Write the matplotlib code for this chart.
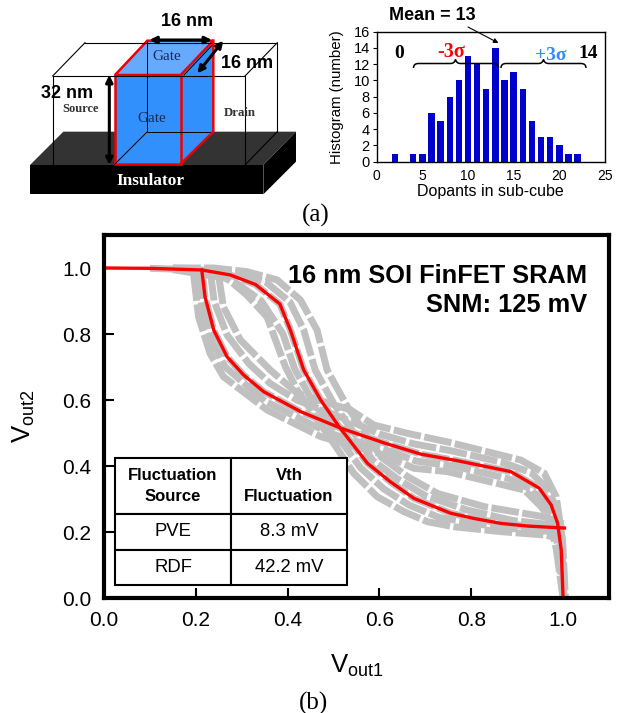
import matplotlib
matplotlib.use('Agg')
import matplotlib.pyplot as plt
from matplotlib.patches import Polygon, PathPatch
from matplotlib.path import Path

plt.rcParams['font.family'] = ['Liberation Sans', 'DejaVu Sans']
plt.rcParams['mathtext.fontset'] = 'custom'
plt.rcParams['mathtext.rm'] = 'Liberation Sans'
plt.rcParams['mathtext.default'] = 'rm'

SERIF = 'Liberation Serif'

# histogram, top right
dopants = [2, 4, 5, 6, 7, 8, 9, 10, 11, 12, 13, 14, 15, 16, 17, 18, 19, 20, 21, 22]
counts = [1, 1, 1, 6, 5, 8, 10, 13, 12, 9, 14, 10, 11, 9, 5, 3, 3, 2, 1, 1]

# red nominal butterfly curves
red_a_x = [0, 0.1, 0.213, 0.275, 0.33, 0.383, 0.406, 0.435, 0.472, 0.512, 0.574, 0.624, 0.675, 0.755, 0.806, 0.865, 0.923, 1.003]
red_a_y = [1.0, 0.999, 0.994, 0.979, 0.95, 0.891, 0.812, 0.691, 0.6, 0.519, 0.408, 0.352, 0.302, 0.257, 0.241, 0.226, 0.218, 0.212]
red_b_x = [0.213, 0.22, 0.239, 0.268, 0.304, 0.348, 0.428, 0.515, 0.61, 0.69, 0.77, 0.886, 0.948, 0.974, 0.988, 0.996, 1.0]
red_b_y = [0.994, 0.913, 0.812, 0.731, 0.676, 0.625, 0.565, 0.515, 0.47, 0.436, 0.416, 0.383, 0.333, 0.282, 0.227, 0.145, 0.0]

# gray spread, read across the two bands
a1_x = [0.15, 0.239, 0.311, 0.377, 0.428, 0.464, 0.486, 0.53, 0.603, 0.661, 0.726, 0.828, 0.959, 1.0]
a1_y = [1.0, 1.0, 0.989, 0.964, 0.903, 0.812, 0.691, 0.58, 0.428, 0.368, 0.317, 0.277, 0.246, 0.225]
a2_x = [0.15, 0.226, 0.293, 0.353, 0.405, 0.435, 0.46, 0.5, 0.585, 0.64, 0.7, 0.79, 0.89, 1.0]
a2_y = [1.0, 0.997, 0.984, 0.957, 0.897, 0.812, 0.691, 0.59, 0.418, 0.36, 0.31, 0.267, 0.235, 0.218]
a4_x = [0.15, 0.24, 0.293, 0.343, 0.39, 0.415, 0.447, 0.506, 0.56, 0.61, 0.664, 0.73, 0.8, 0.865, 0.96, 1.0]
a4_y = [0.997, 0.985, 0.95, 0.9, 0.8, 0.695, 0.615, 0.494, 0.393, 0.33, 0.282, 0.244, 0.228, 0.213, 0.203, 0.196]
a5_x = [0.15, 0.268, 0.311, 0.355, 0.395, 0.421, 0.5, 0.544, 0.595, 0.653, 0.705, 0.762, 0.865, 0.959, 0.995]
a5_y = [0.995, 0.969, 0.918, 0.852, 0.701, 0.63, 0.469, 0.378, 0.307, 0.262, 0.231, 0.216, 0.201, 0.191, 0.18]
b1_x = [0.195, 0.206, 0.231, 0.26, 0.355, 0.472, 0.61, 0.675, 0.748, 0.872, 0.916, 0.952, 0.966, 0.985, 1.0]
b1_y = [0.984, 0.852, 0.741, 0.671, 0.57, 0.489, 0.433, 0.393, 0.383, 0.342, 0.327, 0.277, 0.252, 0.15, 0.0]
b2_x = [0.204, 0.213, 0.235, 0.264, 0.35, 0.45, 0.51, 0.61, 0.68, 0.76, 0.88, 0.93, 0.96, 0.977, 0.99, 1.0]
b2_y = [0.99, 0.88, 0.776, 0.7, 0.597, 0.527, 0.49, 0.451, 0.415, 0.4, 0.362, 0.33, 0.28, 0.23, 0.15, 0.0]
b4_x = [0.232, 0.24, 0.268, 0.315, 0.362, 0.42, 0.53, 0.6, 0.675, 0.76, 0.87, 0.93, 0.967, 0.986, 0.998, 1.002]
b4_y = [0.985, 0.898, 0.797, 0.711, 0.65, 0.6, 0.54, 0.497, 0.467, 0.445, 0.41, 0.38, 0.33, 0.27, 0.16, 0.0]
b5_x = [0.25, 0.26, 0.297, 0.362, 0.421, 0.537, 0.588, 0.661, 0.748, 0.85, 0.908, 0.959, 0.985, 0.999, 1.005]
b5_y = [0.974, 0.883, 0.782, 0.691, 0.62, 0.57, 0.524, 0.499, 0.473, 0.438, 0.418, 0.378, 0.307, 0.176, 0.0]

# table in the main plot
table_rows = [['Fluctuation\nSource', 'Vth\nFluctuation'],
              ['PVE', '8.3 mV'],
              ['RDF', '42.2 mV']]

fig = plt.figure(figsize=(6.22, 7.13), dpi=100, facecolor='white')


def px_axes(left, top, right, bottom, **kw):
    return fig.add_axes([left / 622, 1 - bottom / 713, (right - left) / 622, (bottom - top) / 713], **kw)


# schematic, drawn in pixel coordinates on a full page axes
sk = fig.add_axes([0, 0, 1, 1], zorder=1)
sk.set_xlim(0, 622)
sk.set_ylim(713, 0)
sk.axis('off')


def poly(pts, **kw):
    sk.add_patch(Polygon([(x / 3, y / 3) for x, y in pts], closed=True, **kw))


def seg(pts, color='black', lw=0.8, **kw):
    sk.plot([p[0] / 3 for p in pts], [p[1] / 3 for p in pts], color=color, lw=lw, **kw)


def twoway(p0, p1, lw=2.2):
    sk.annotate('', xy=(p1[0] / 3, p1[1] / 3), xytext=(p0[0] / 3, p0[1] / 3),
                arrowprops=dict(arrowstyle='<|-|>', color='black', lw=lw, shrinkA=0, shrinkB=0, mutation_scale=10))


poly([(90, 495), (190, 395), (888, 395), (790, 495)], fc='#333333', ec='none')
poly([(790, 583), (888, 485), (888, 395), (790, 495)], fc='black', ec='none')
poly([(90, 495), (790, 495), (790, 583), (90, 583)], fc='black', ec='none')

seg([(158, 495), (158, 228), (735, 228), (735, 495)])
seg([(255, 128), (832, 128), (832, 395)])
seg([(158, 228), (255, 128)])
seg([(735, 228), (832, 128)])
seg([(735, 495), (832, 395)])

poly([(542, 225), (640, 122), (640, 395), (542, 492)], fc='#3290FC', ec='none')
poly([(345, 225), (442, 122), (640, 122), (542, 225)], fc='#66AAFF', ec='none')
poly([(345, 225), (542, 225), (542, 492), (345, 492)], fc='#3290FC', ec='none')
seg([(442, 122), (442, 395), (640, 395)], lw=0.7)
seg([(442, 395), (345, 492)], lw=0.7)
seg([(552, 225), (640, 132)], lw=0.7)
poly([(345, 225), (442, 122), (640, 122), (542, 225)], fc='none', ec='#EE0000', lw=1.8)
poly([(345, 225), (542, 225), (542, 492), (345, 492)], fc='none', ec='#EE0000', lw=1.8)
seg([(640, 122), (640, 395), (542, 492)], color='#EE0000', lw=1.8)

twoway((448, 120), (636, 120))
twoway((592, 220), (670, 122))
twoway((328, 225), (328, 495))

sk.text(187, 21, '16 nm', fontsize=13, fontweight='bold', ha='center', va='center')
sk.text(247, 64, '16 nm', fontsize=13, fontweight='bold', ha='center', va='center')
sk.text(67, 94, '32 nm', fontsize=13, fontweight='bold', ha='center', va='center')
sk.text(80.5, 109, 'Source', family=SERIF, fontsize=9, fontweight='bold', color='#333333', ha='center', va='center')
sk.text(240, 113, 'Drain', family=SERIF, fontsize=9.3, fontweight='bold', color='#333333', ha='center', va='center')
sk.text(167, 57, 'Gate', family=SERIF, fontsize=11, color='#1a2a55', ha='center', va='center')
sk.text(152, 118, 'Gate', family=SERIF, fontsize=11, color='#1a2a55', ha='center', va='center')
sk.text(150, 181, 'Insulator', family=SERIF, fontsize=12.4, fontweight='bold', color='white', ha='center', va='center')
sk.text(316, 215, '(a)', family=SERIF, fontsize=18, ha='center', va='center')
sk.text(313, 703, '(b)', family=SERIF, fontsize=18, ha='center', va='center')

# histogram
ah = px_axes(376.7, 31.7, 605, 161.7, zorder=2)
ah.bar(dopants, counts, width=0.7, color='#0000CC')
ah.set_xlim(0, 25)
ah.set_ylim(0, 16)
ah.set_xticks(range(0, 26, 5))
ah.set_yticks(range(0, 17, 2))
ah.tick_params(axis='x', length=0, labelsize=10, pad=5)
ah.tick_params(axis='y', length=3, width=0.8, labelsize=10.5, pad=2)
ah.set_xlabel('Dopants in sub-cube', fontsize=11.5, labelpad=1)
ah.set_ylabel('Histogram (number)', fontsize=10.8, labelpad=7)
for s in ah.spines.values():
    s.set_linewidth(1.0)

# main butterfly plot
ax = px_axes(104, 235, 609, 598, zorder=2)
band_style = dict(color='#C0C0C0', lw=5, dashes=(4, 0.5), dash_capstyle='butt')
for xs, ys in [(a1_x, a1_y), (a2_x, a2_y), (red_a_x[1:], red_a_y[1:]), (a4_x, a4_y), (a5_x, a5_y),
               (b1_x, b1_y), (b2_x, b2_y), (red_b_x, red_b_y), (b4_x, b4_y), (b5_x, b5_y)]:
    ax.plot(xs, ys, **band_style)
ax.plot(red_a_x, red_a_y, color='#FF0000', lw=2.4, solid_joinstyle='miter')
ax.plot(red_b_x, red_b_y, color='#FF0000', lw=2.4, solid_joinstyle='miter')
ax.set_xlim(0, 1.1)
ax.set_ylim(0, 1.1)
ax.set_xticks([0, 0.2, 0.4, 0.6, 0.8, 1.0])
ax.set_yticks([0, 0.2, 0.4, 0.6, 0.8, 1.0])
ax.set_xticklabels(['0.0', '0.2', '0.4', '0.6', '0.8', '1.0'])
ax.set_yticklabels(['0.0', '0.2', '0.4', '0.6', '0.8', '1.0'])
ax.tick_params(direction='in', length=7.5, width=1.5, labelsize=15, pad=9)
for s in ax.spines.values():
    s.set_linewidth(3)
ax.set_xlabel('V$_{out1}$', fontsize=18.5, labelpad=17)
ax.set_ylabel('V$_{out2}$', fontsize=18.5, labelpad=18)
ax.text(0.957, 0.92, '16 nm SOI FinFET SRAM\nSNM: 125 mV', transform=ax.transAxes, fontsize=18.3,
        fontweight='bold', ha='right', va='top', linespacing=1.26)

tb = ax.table(cellText=table_rows, cellLoc='center',
              bbox=[(115 - 104) / 505, (598 - 585) / 363, (346.7 - 115) / 505, (585 - 458) / 363])
row_heights = [56, 36, 35]
col_widths = [116, 115.7]
tb.auto_set_font_size(False)
for (r, c), cell in tb.get_celld().items():
    cell.set_height(row_heights[r])
    cell.set_width(col_widths[c])
    cell.set_linewidth(1.5)
    cell.set_facecolor('white')
    if r == 0:
        cell.set_text_props(fontsize=12, fontweight='bold', linespacing=1.55)
    else:
        cell.set_text_props(fontsize=13.3)
tb.set_zorder(5)

# annotations over the histogram
top = fig.add_axes([0, 0, 1, 1], zorder=3)
top.set_xlim(0, 622)
top.set_ylim(713, 0)
top.axis('off')
top.patch.set_alpha(0)


def brace(x0, x1, xm, y, rise=6.5):
    h = 3.5
    verts = [(x0, y + 2), (x0, y - h + 1), (x0 + 5, y - h + 1), (xm - 5, y - h + 1), (xm - 1, y - h + 1), (xm, y - rise),
             (xm, y - rise), (xm + 1, y - h + 1), (xm + 5, y - h + 1), (x1 - 5, y - h + 1), (x1, y - h + 1), (x1, y + 2)]
    codes = [Path.MOVETO, Path.CURVE3, Path.CURVE3, Path.LINETO, Path.CURVE3, Path.CURVE3,
             Path.LINETO, Path.CURVE3, Path.CURVE3, Path.LINETO, Path.CURVE3, Path.CURVE3]
    top.add_patch(PathPatch(Path(verts, codes), fc='none', ec='black', lw=1.1))


brace(413.5, 498.5, 455.5, 66)
brace(501, 586, 543.5, 66)
top.text(432.7, 15.5, 'Mean = 13', fontsize=13, fontweight='bold', ha='center', va='center')
top.annotate('', xy=(498.5, 43), xytext=(468, 27), arrowprops=dict(arrowstyle='-|>', color='black', lw=0.8, shrinkA=0, shrinkB=0, mutation_scale=7))
top.text(399, 53, '0', family=SERIF, fontsize=14, fontweight='bold', ha='center', va='center')
top.text(451.5, 52, '-3σ', family=SERIF, fontsize=14.5, fontweight='bold', color='#FF0000', ha='center', va='center')
top.text(551, 55, '+3σ', family=SERIF, fontsize=14, fontweight='bold', color='#3388FF', ha='center', va='center')
top.text(588, 53, '14', family=SERIF, fontsize=14, fontweight='bold', ha='center', va='center')

fig.savefig('out.png', dpi=100)
